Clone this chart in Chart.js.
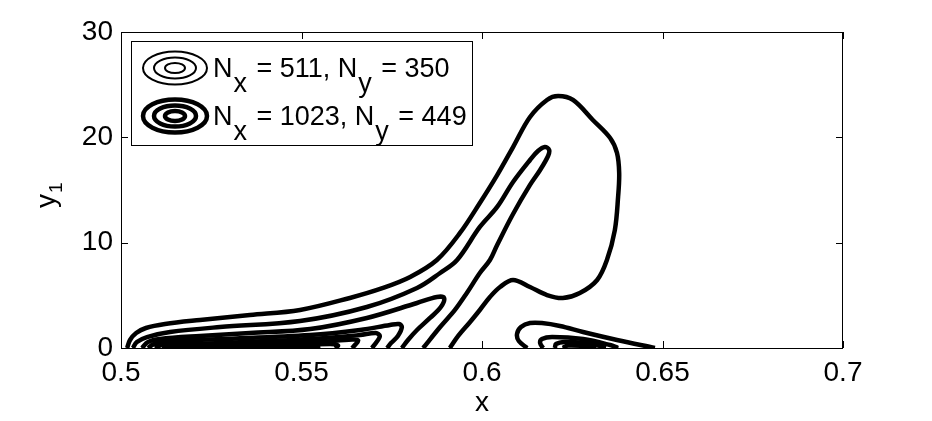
<!DOCTYPE html>
<html>
<head>
<meta charset="utf-8">
<script src="https://cdn.jsdelivr.net/npm/chart.js@4.4.1/dist/chart.umd.min.js"></script>
<style>
  body { margin: 0; background: #fff; }
</style>
</head>
<body>
<canvas id="contourChart" width="932" height="421"></canvas>
<script>
// axis ticks
var xTicks = [0.5, 0.55, 0.6, 0.65, 0.7];
var yTicks = [0, 10, 20, 30];

// the two grids shown in the legend, [Nx, Ny]
var gridSizes = [[511, 350], [1023, 449]];

// contour lines as [x, y1] pairs
// left group, outermost first
var levelOne = [[0.5017,0],[0.5025,0.76],[0.5042,1.42],[0.5069,1.9],[0.5122,2.28],[0.5219,2.66],[0.5357,3.13],
  [0.5496,3.61],[0.5634,4.75],[0.5726,5.7],[0.5801,6.74],[0.5875,8.35],[0.5939,10.92],[0.5994,13.77],
  [0.6042,16.42],[0.6086,19.08],[0.6133,21.93],[0.618,23.55],[0.6211,23.92],[0.6252,23.55],[0.6307,21.65],
  [0.6355,19.94],[0.6374,18.51],[0.638,16.61],[0.6377,14.34],[0.6368,11.2],[0.6346,8.35],[0.6319,6.46],
  [0.6271,5.22],[0.6224,4.75],[0.618,5.03],[0.6133,5.79],[0.6086,6.46],[0.605,5.79],[0.6022,4.84],
  [0.5994,3.61],[0.5967,2.47],[0.5934,1.14],[0.5911,0]];
var levelTwo = [[0.5033,0],[0.5044,0.57],[0.5072,1.04],[0.5136,1.52],[0.5274,1.99],[0.5496,2.56],[0.5681,3.89],
  [0.582,5.7],[0.5884,7.12],[0.5931,8.35],[0.5994,11.49],[0.6042,13.39],[0.6086,15.76],[0.6133,17.85],
  [0.6155,18.7],[0.6174,19.08],[0.6186,18.8],[0.6183,18.23],[0.6161,16.9],[0.6133,15.48],[0.6086,12.72],
  [0.6042,9.78],[0.6022,8.35],[0.5994,7.12],[0.5958,5.22],[0.5925,3.61],[0.5884,1.99],[0.5837,0]];
var levelThree = [[0.5058,0],[0.5075,0.57],[0.5108,0.85],[0.5219,1.14],[0.5357,1.42],[0.5524,1.8],[0.5681,2.85],
  [0.582,4.27],[0.5875,4.84],[0.5895,4.75],[0.5886,3.89],[0.5856,2.85],[0.582,1.71],[0.5795,0.76],[0.5778,0]];
var levelFour = [[0.5075,0],[0.5091,0.38],[0.5136,0.66],[0.5274,0.85],[0.5524,1.23],[0.5662,1.71],[0.5745,2.18],
  [0.577,2.28],[0.5778,1.99],[0.5767,1.14],[0.5748,0.47],[0.5737,0]];
var levelFive = [[0.5094,0],[0.5114,0.28],[0.5274,0.47],[0.5524,0.85],[0.5662,1.23],[0.5706,1.42],[0.5717,1.14],
  [0.5706,0.47],[0.5695,0]];
var levelSix = [[0.5114,0],[0.5141,0.19],[0.5357,0.33],[0.5551,0.57],[0.564,0.81],[0.5657,0.71],[0.5648,0.28],[0.564,0]];
var levelSeven = [[0.5136,0],[0.5191,0.14],[0.544,0.24],[0.5579,0.38],[0.5601,0.24],[0.5593,0]];
var levelEight = [[0.5163,0],[0.5302,0.09],[0.5496,0.14],[0.5546,0.09],[0.554,0]];
// right group near x = 0.625
var rightOne = [[0.6125,0],[0.6102,0.66],[0.6097,1.33],[0.6108,1.99],[0.6133,2.37],[0.6166,2.37],[0.6216,2.09],
  [0.628,1.52],[0.6374,0.76],[0.6479,0]];
var rightTwo = [[0.6169,0],[0.6161,0.47],[0.6166,0.85],[0.6194,1.04],[0.628,0.85],[0.6355,0.28],[0.6377,0]];
var rightThree = [[0.6202,0],[0.6205,0.38],[0.623,0.57],[0.6285,0.47],[0.6327,0.19],[0.6343,0]];
var rightFour = [[0.6224,0],[0.6238,0.24],[0.6299,0.14],[0.6316,0]];

// at this scale the coarse-grid contours sit right under the fine-grid ones
var contoursFine = [levelOne, levelTwo, levelThree, levelFour, levelFive, levelSix, levelSeven, levelEight,
  rightOne, rightTwo, rightThree, rightFour];
var contoursCoarse = contoursFine;

var fontName = '"Liberation Sans", Arial, Helvetica, sans-serif';

var makeSets = (lines, width) => lines.map(pts => ({
  data: pts.map(p => ({x: p[0], y: p[1]})),
  showLine: true,
  borderColor: '#000',
  borderWidth: width,
  pointRadius: 0,
  tension: 0.35,
  fill: false,
  clip: 0
}))

// frame, inward ticks, axis titles and legend (matlab style)
var matlabBits = {
  id: 'matlabBits',
  afterDraw(chart) {
    var ctx = chart.ctx
    var a = chart.chartArea
    var xs = chart.scales.x
    var ys = chart.scales.y
    ctx.save()
    ctx.strokeStyle = '#000'
    ctx.lineWidth = 1
    ctx.strokeRect(a.left + 0.5, a.top + 0.5, a.right - a.left - 1, a.bottom - a.top)
    ctx.beginPath()
    xTicks.forEach(v => {
      var px = Math.round(xs.getPixelForValue(v)) + 0.5
      ctx.moveTo(px, a.bottom); ctx.lineTo(px, a.bottom - 7)
      ctx.moveTo(px, a.top); ctx.lineTo(px, a.top + 7)
    })
    yTicks.forEach(v => {
      var py = Math.round(ys.getPixelForValue(v)) + 0.5
      ctx.moveTo(a.left, py); ctx.lineTo(a.left + 7, py)
      ctx.moveTo(a.right, py); ctx.lineTo(a.right - 7, py)
    })
    ctx.stroke()

    // axis titles
    ctx.fillStyle = '#000'
    ctx.font = '28px ' + fontName
    ctx.textAlign = 'center'
    ctx.textBaseline = 'alphabetic'
    ctx.fillText('x', (a.left + a.right) / 2, 411)
    ctx.save()
    ctx.translate(55, 194)
    ctx.rotate(-Math.PI / 2)
    ctx.textAlign = 'left'
    ctx.fillText('y', -14, 0)
    ctx.font = '19px ' + fontName
    ctx.fillText('1', 1, 7)
    ctx.restore()

    // legend
    var bx = a.left + 10, by = a.top + 9, bw = 341, bh = 104
    ctx.fillStyle = '#fff'
    ctx.fillRect(bx, by, bw, bh)
    ctx.strokeRect(bx + 0.5, by + 0.5, bw, bh)
    gridSizes.forEach((g, i) => {
      var cy = by + 27 + i * 48
      var cx = bx + 44
      ctx.lineWidth = i === 0 ? 2 : 4.5
      ;[[32, 16.5], [21, 10.5], [10, 5]].forEach(r => {
        ctx.beginPath()
        ctx.ellipse(cx, cy, r[0], r[1], 0, 0, Math.PI * 2)
        ctx.stroke()
      })
      var parts = [['N'], ['x', 1], [' = ' + g[0] + ', '], ['N'], ['y', 1], [' = ' + g[1]]]
      var tx = bx + 82
      var base = cy + 9
      ctx.font = '27px ' + fontName
      ctx.fillStyle = '#000'
      ctx.textAlign = 'left'
      parts.forEach(p => {
        if (p[1]) tx += 1
        ctx.fillText(p[0], tx, p[1] ? base + 15 : base)
        tx += ctx.measureText(p[0]).width
        if (p[1]) tx += 2
      })
    })
    ctx.restore()
  }
}

var chart = new Chart(document.getElementById('contourChart'), {
  type: 'scatter',
  data: {
    datasets: makeSets(contoursCoarse, 2).concat(makeSets(contoursFine, 4.5))
  },
  options: {
    responsive: false,
    devicePixelRatio: 1,
    animation: false,
    layout: { padding: { top: 32, right: 89, left: 0, bottom: 0 } },
    plugins: {
      legend: { display: false },
      tooltip: { enabled: false }
    },
    scales: {
      x: {
        type: 'linear',
        min: 0.5,
        max: 0.7,
        afterBuildTicks: s => { s.ticks = xTicks.map(v => ({ value: v })) },
        afterFit: s => { s.height = 73 },
        grid: { display: false, drawTicks: false },
        border: { display: false },
        ticks: {
          color: '#000',
          font: { family: fontName, size: 28 },
          padding: 8,
          maxRotation: 0,
          autoSkip: false,
          callback: v => String(v)
        }
      },
      y: {
        type: 'linear',
        min: 0,
        max: 30,
        afterBuildTicks: s => { s.ticks = yTicks.map(v => ({ value: v })) },
        afterFit: s => { s.width = 121 },
        grid: { display: false, drawTicks: false },
        border: { display: false },
        ticks: {
          color: '#000',
          font: { family: fontName, size: 28 },
          padding: 8,
          autoSkip: false,
          callback: v => String(v)
        }
      }
    }
  },
  plugins: [matlabBits]
})
</script>
</body>
</html>
